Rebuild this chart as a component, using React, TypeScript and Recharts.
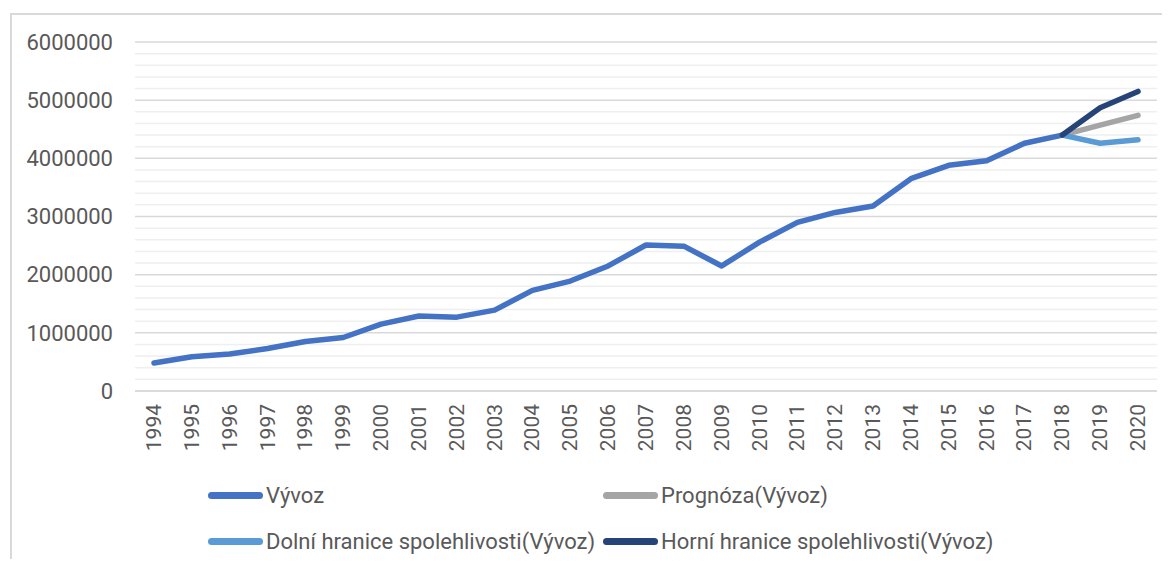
import React from 'react';
import { LineChart, Line, XAxis, YAxis, CartesianGrid, Legend } from 'recharts';

const years = [
  '1994', '1995', '1996', '1997', '1998', '1999', '2000', '2001', '2002', '2003',
  '2004', '2005', '2006', '2007', '2008', '2009', '2010', '2011', '2012', '2013',
  '2014', '2015', '2016', '2017', '2018', '2019', '2020',
];

const vyvoz = [
  480000, 590000, 635000, 730000, 850000, 920000, 1150000, 1290000, 1270000, 1390000,
  1730000, 1890000, 2150000, 2510000, 2490000, 2150000, 2560000, 2900000, 3070000, 3180000,
  3650000, 3880000, 3960000, 4260000, 4400000, null, null,
];

// forecast series only start at the last known year
const prognoza = [...Array(24).fill(null), 4400000, 4570000, 4740000];
const dolni = [...Array(24).fill(null), 4400000, 4260000, 4320000];
const horni = [...Array(24).fill(null), 4400000, 4870000, 5150000];

const seriesNames = [
  'Vývoz',
  'Prognóza(Vývoz)',
  'Dolní hranice spolehlivosti(Vývoz)',
  'Horní hranice spolehlivosti(Vývoz)',
];

const yTicks = [0, 1000000, 2000000, 3000000, 4000000, 5000000, 6000000];
const minorTicks = [
  200000, 400000, 600000, 800000, 1200000, 1400000, 1600000, 1800000,
  2200000, 2400000, 2600000, 2800000, 3200000, 3400000, 3600000, 3800000,
  4200000, 4400000, 4600000, 4800000, 5200000, 5400000, 5600000, 5800000,
];

const data = years.map((y, i) => ({
  year: y,
  vyvoz: vyvoz[i],
  prognoza: prognoza[i],
  dolni: dolni[i],
  horni: horni[i],
}));

const FONT = 'Roboto, "Open Sans", sans-serif';
const TEXT = '#595959';

const YearTick = (props: any) => {
  const { x, y, payload } = props;
  return (
    <g transform={`translate(${x},${y})`}>
      <text
        transform="rotate(-90)"
        textAnchor="end"
        dominantBaseline="central"
        fill={TEXT}
        fontSize={21}
        fontFamily={FONT}
      >
        {payload.value}
      </text>
    </g>
  );
};

const LegendGrid = (props: any) => {
  const items = [...(props.payload || [])].sort(
    (a: any, b: any) => seriesNames.indexOf(a.value) - seriesNames.indexOf(b.value)
  );
  return (
    <div
      style={{
        display: 'grid',
        gridTemplateColumns: '395px 400px',
        rowGap: 24,
        paddingLeft: 208,
        paddingTop: 13,
        fontFamily: FONT,
        fontSize: 22,
        color: TEXT,
        whiteSpace: 'nowrap',
      }}
    >
      {items.map((it: any) => (
        <div key={it.value} style={{ display: 'flex', alignItems: 'center', height: 22 }}>
          <span
            style={{
              display: 'inline-block',
              width: 55,
              height: 7,
              borderRadius: 4,
              background: it.color,
              marginRight: 3,
            }}
          />
          <span>{it.value}</span>
        </div>
      ))}
    </div>
  );
};

export default function App() {
  return (
    <div style={{ margin: -8, width: 1170, height: 567, position: 'relative', background: '#fff' }}>
      <div
        style={{
          position: 'absolute',
          left: 10,
          top: 13,
          width: 1170,
          height: 567,
          borderLeft: '2px solid #d9d9d9',
          borderTop: '2px solid #d9d9d9',
        }}
      />
      <div style={{ position: 'absolute', left: 0, top: 0 }}>
        <LineChart width={1170} height={567} data={data} margin={{ top: 42, right: 13, left: 0, bottom: 0 }}>
          <CartesianGrid vertical={false} horizontalValues={minorTicks} stroke="#efefef" strokeWidth={1.5} />
          <CartesianGrid vertical={false} horizontalValues={yTicks} stroke="#d9d9d9" strokeWidth={1.5} />
          <XAxis
            dataKey="year"
            interval={0}
            height={80}
            padding={{ left: 19, right: 19 }}
            tickLine={false}
            axisLine={{ stroke: '#d9d9d9', strokeWidth: 1.5 }}
            tickSize={0}
            tickMargin={13}
            tick={<YearTick />}
          />
          <YAxis
            width={135}
            domain={[0, 6000000]}
            ticks={yTicks}
            interval={0}
            tickLine={false}
            axisLine={false}
            tickSize={0}
            tickMargin={22}
            tick={{ fill: TEXT, fontSize: 22, fontFamily: FONT }}
          />
          <Legend verticalAlign="bottom" height={96} content={<LegendGrid />} />
          <Line name={seriesNames[0]} dataKey="vyvoz" stroke="#4472C4" strokeWidth={5.5} dot={false} strokeLinecap="round" strokeLinejoin="round" isAnimationActive={false} />
          <Line name={seriesNames[1]} dataKey="prognoza" stroke="#A5A5A5" strokeWidth={5.5} dot={false} strokeLinecap="round" strokeLinejoin="round" isAnimationActive={false} />
          <Line name={seriesNames[2]} dataKey="dolni" stroke="#5B9BD5" strokeWidth={5.5} dot={false} strokeLinecap="round" strokeLinejoin="round" isAnimationActive={false} />
          <Line name={seriesNames[3]} dataKey="horni" stroke="#264478" strokeWidth={5.5} dot={false} strokeLinecap="round" strokeLinejoin="round" isAnimationActive={false} />
        </LineChart>
      </div>
    </div>
  );
}
